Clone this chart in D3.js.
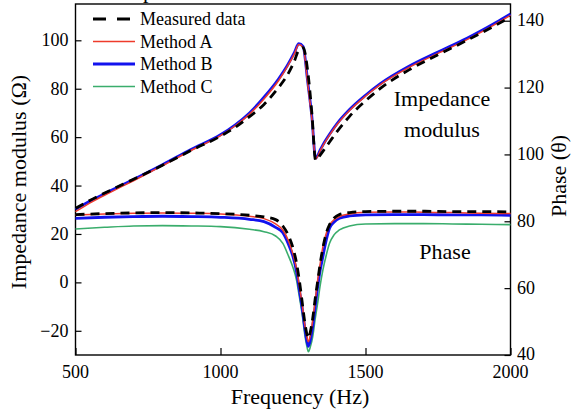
<!DOCTYPE html>
<html>
<head>
<meta charset="utf-8">
<script src="https://cdn.jsdelivr.net/npm/d3@7"></script>
<style>
  body { margin: 0; background: #fff; }
  svg { display: block; font-family: "Liberation Serif", "Times New Roman", serif; }
</style>
</head>
<body>
<div class="graph"></div>
<script>
//impedance modulus data (left axis)
const zFreq = [500, 560, 620, 700, 800, 900, 1000, 1050, 1100, 1150, 1200, 1230, 1255, 1270, 1285, 1300, 1315, 1328, 1345, 1360, 1376, 1400, 1445, 1500, 1550, 1650, 1750, 1850, 1950, 2000];
const zMeasured = [30.6, 34.5, 38, 42.6, 48.4, 54.6, 60.4, 64, 68.5, 73.5, 80.5, 85.5, 91.5, 96, 97, 88, 70, 50.5, 52.8, 55.3, 58, 62, 68.6, 75, 80, 87.8, 94, 100, 106.3, 109.6];
const zMethodA = [29.2, 33.5, 37.2, 42, 48.2, 54.6, 60.6, 64.6, 69.5, 75.8, 83.3, 89, 94.5, 98.3, 97, 83, 67.5, 51, 54.6, 57.8, 60.8, 64.9, 71, 76.9, 81.6, 88.8, 94.6, 100.3, 106.8, 110.3];
const zMethodB = [30.2, 34.2, 37.8, 42.5, 48.6, 55, 61, 65, 70, 76.5, 84, 89.5, 95, 98.6, 97.4, 83.6, 68.5, 51.3, 55, 58.2, 61.2, 65.3, 71.4, 77.3, 82, 89.3, 95.2, 100.9, 107.4, 110.9];

//phase data (right axis)
const pFreq = [500, 600, 700, 800, 900, 1000, 1100, 1150, 1190, 1215, 1235, 1250, 1262, 1272, 1282, 1290, 1297, 1303, 1310, 1318, 1326, 1335, 1344, 1353, 1365, 1376, 1392, 1410, 1445, 1500, 1600, 1700, 1800, 1900, 2000];
const pMeasured = [82, 82.3, 82.5, 82.6, 82.5, 82.3, 81.8, 81.3, 80.5, 78.6, 75.6, 72, 67.6, 62.2, 55.6, 50.2, 46.6, 45, 47, 51, 56.5, 62, 67.5, 72, 76.5, 79, 81, 82, 82.6, 82.9, 83, 83, 82.9, 82.9, 82.8];
const pMethodA = [81.9, 82.2, 82.4, 82.5, 82.4, 82.2, 81.5, 80.8, 79.2, 77.4, 74, 70.2, 66, 60.5, 55, 49.5, 46, 44, 46, 50.5, 56, 62.4, 67.5, 72.4, 76.5, 78.9, 80.5, 81.4, 82.2, 82.7, 82.8, 82.7, 82.6, 82.4, 82.3];
const pMethodB = [80.9, 81.2, 81.4, 81.5, 81.4, 81.2, 80.6, 79.9, 78.2, 76.6, 73, 69.4, 65, 59.4, 53.8, 48.5, 44.5, 42.6, 44.5, 48.5, 54, 60.4, 65.5, 69.4, 74.5, 77.9, 79.8, 80.9, 81.6, 81.9, 82, 82, 81.9, 81.9, 81.8];
const pMethodC = [77.7, 78.2, 78.6, 78.7, 78.6, 78.4, 77.6, 76.9, 75.6, 73.4, 69.5, 66.2, 62.5, 57.4, 52, 46.5, 43, 41, 42.5, 45.5, 50.5, 55.5, 61, 65.4, 70, 73.4, 76, 77.4, 78.6, 79.2, 79.3, 79.3, 79.2, 79.1, 79];

//tick values
const xTicks = [500, 1000, 1500, 2000];
const xMinor = [750, 1250, 1750];
const yLeftTicks = [-20, 0, 20, 40, 60, 80, 100];
const yLeftMinor = [-30, -10, 10, 30, 50, 70, 90, 110];
const yRightTicks = [40, 60, 80, 100, 120, 140];
const yRightMinor = [50, 70, 90, 110, 130];

//legend entries
const legendNames = ["Measured data", "Method A", "Method B", "Method C"];

//styles
const styles = {
  measured: { color: "#000000", width: 2.8, dash: "9,6" },
  A: { color: "#ee3b2b", width: 1.5, dash: null },
  B: { color: "#1212ee", width: 2.8, dash: null },
  C: { color: "#3aad6c", width: 1.6, dash: null }
};

const width = 571;
const height = 414;
const plotLeft = 75.5, plotRight = 510.5, plotTop = 4, plotBottom = 355;

const svg = d3.select(".graph")
  .append("svg")
  .attr("width", width)
  .attr("height", height);

//scales
const scaleX = d3.scaleLinear().domain([500, 2000]).range([plotLeft, plotRight]);
const scaleYL = d3.scaleLinear().domain([-30, 115]).range([plotBottom, plotTop]);
const scaleYR = d3.scaleLinear().domain([40, 145]).range([plotBottom, plotTop]);

//cut off title fragment above the frame
svg.append("text")
  .attr("x", 143)
  .attr("y", -2)
  .style("font-size", "22px")
  .text("p");

//axes
const fmt = d3.format("d");
const axisFont = "18px";

//bottom
const gx = svg.append("g").attr("transform", `translate(0, ${plotBottom})`);
gx.call(d3.axisTop(scaleX).tickValues(xMinor).tickSize(3.5).tickFormat(""));
gx.call(d3.axisTop(scaleX).tickValues(xTicks).tickSize(7).tickFormat(""));
svg.selectAll("text.xl").data(xTicks).join("text")
  .attr("class", "xl")
  .attr("x", (d) => scaleX(d))
  .attr("y", 378)
  .attr("text-anchor", "middle")
  .style("font-size", axisFont)
  .text(fmt);

//left
const gl = svg.append("g").attr("transform", `translate(${plotLeft}, 0)`);
gl.call(d3.axisRight(scaleYL).tickValues(yLeftMinor).tickSize(3.5).tickFormat(""));
gl.call(d3.axisRight(scaleYL).tickValues(yLeftTicks).tickSize(6).tickFormat(""));
svg.selectAll("text.yl").data(yLeftTicks).join("text")
  .attr("class", "yl")
  .attr("x", 68.5)
  .attr("y", (d) => scaleYL(d))
  .attr("dy", "0.34em")
  .attr("text-anchor", "end")
  .style("font-size", axisFont)
  .text(fmt);

//right
const gr = svg.append("g").attr("transform", `translate(${plotRight}, 0)`);
gr.call(d3.axisLeft(scaleYR).tickValues(yRightMinor).tickSize(3.5).tickFormat(""));
gr.call(d3.axisLeft(scaleYR).tickValues(yRightTicks).tickSize(6).tickFormat(""));
svg.selectAll("text.yr").data(yRightTicks).join("text")
  .attr("class", "yr")
  .attr("x", 517)
  .attr("y", (d) => scaleYR(d))
  .attr("dy", "0.3em")
  .attr("text-anchor", "start")
  .style("font-size", axisFont)
  .text(fmt);

svg.selectAll(".domain").remove();
svg.selectAll(".tick line").attr("stroke", "#000").attr("stroke-width", 1.2);

//frame
svg.append("rect")
  .attr("x", plotLeft)
  .attr("y", plotTop)
  .attr("width", plotRight - plotLeft)
  .attr("height", plotBottom - plotTop)
  .attr("fill", "none")
  .attr("stroke", "#000")
  .attr("stroke-width", 1.4);

//drawing lines
const drawLine = function(xs, ys, scaleY, st){
  const pts = xs.map((d, i) => [d, ys[i]]);
  svg.append("path")
    .datum(pts)
    .attr("fill", "none")
    .attr("stroke", st.color)
    .attr("stroke-width", st.width)
    .attr("stroke-dasharray", st.dash)
    .attr("stroke-linejoin", "round")
    .attr("d", d3.line()
      .curve(d3.curveMonotoneX)
      .x((d) => scaleX(d[0]))
      .y((d) => scaleY(d[1])));
};

drawLine(pFreq, pMethodC, scaleYR, styles.C);
drawLine(pFreq, pMethodB, scaleYR, styles.B);
drawLine(pFreq, pMethodA, scaleYR, styles.A);
drawLine(pFreq, pMeasured, scaleYR, styles.measured);

drawLine(zFreq, zMethodB, scaleYL, styles.B);
drawLine(zFreq, zMethodA, scaleYL, styles.A);
drawLine(zFreq, zMeasured, scaleYL, styles.measured);

//legend
const legendStyles = [styles.measured, styles.A, styles.B, styles.C];
legendNames.forEach((name, i) => {
  const y = 19 + i * 22.5;
  svg.append("line")
    .attr("x1", 93)
    .attr("x2", 135)
    .attr("y1", y)
    .attr("y2", y)
    .attr("stroke", legendStyles[i].color)
    .attr("stroke-width", legendStyles[i].width)
    .attr("stroke-dasharray", legendStyles[i].dash ? "13,11" : null);
  svg.append("text")
    .attr("x", 140)
    .attr("y", y + 6)
    .style("font-size", "18px")
    .text(name);
});

//annotations
svg.append("text")
  .attr("x", 442)
  .attr("y", 106)
  .attr("text-anchor", "middle")
  .style("font-size", "22px")
  .text("Impedance");
svg.append("text")
  .attr("x", 442)
  .attr("y", 137)
  .attr("text-anchor", "middle")
  .style("font-size", "22px")
  .text("modulus");
svg.append("text")
  .attr("x", 445)
  .attr("y", 259)
  .attr("text-anchor", "middle")
  .style("font-size", "22px")
  .text("Phase");

//axis titles
svg.append("text")
  .attr("x", 300)
  .attr("y", 404)
  .attr("text-anchor", "middle")
  .style("font-size", "22px")
  .text("Frequency (Hz)");
svg.append("text")
  .attr("transform", "translate(26, 182) rotate(-90)")
  .attr("text-anchor", "middle")
  .style("font-size", "22px")
  .text("Impedance modulus (Ω)");
svg.append("text")
  .attr("transform", "translate(566, 176) rotate(-90)")
  .attr("text-anchor", "middle")
  .style("font-size", "22px")
  .text("Phase (θ)");
</script>
</body>
</html>
